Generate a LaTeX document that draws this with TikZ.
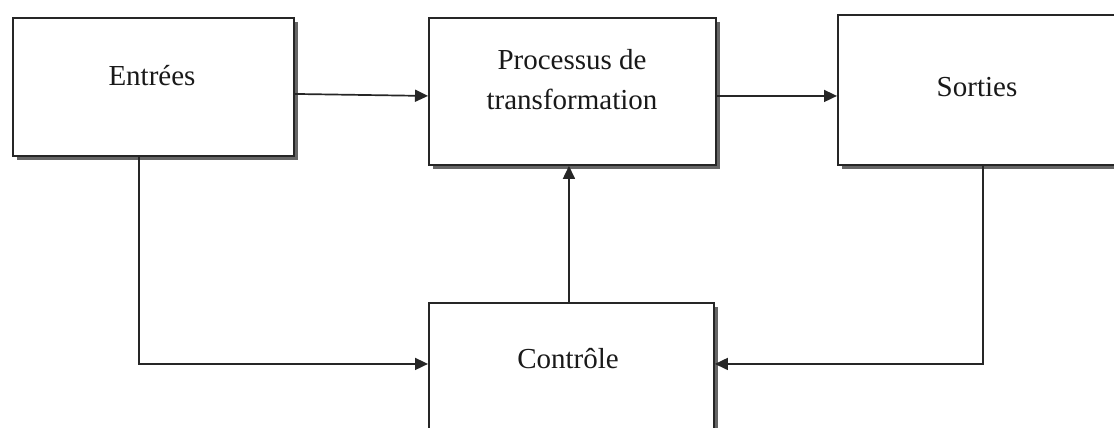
\documentclass[tikz,border=0pt]{standalone}
\usepackage{fontspec}
\setmainfont{Liberation Serif}
\usetikzlibrary{arrows.meta,shadows}
\begin{document}
\begin{tikzpicture}[
  box/.style={draw=black!85, line width=1.9pt, fill=white, rectangle, anchor=north west, inner sep=0pt,
    drop shadow={shadow xshift=4.5pt, shadow yshift=-4.5pt, fill=black!60, opacity=1}},
  lbl/.style={font=\fontsize{29}{40}\selectfont, align=center, inner sep=0pt, text=black!90},
  arr/.style={draw=black!85, line width=1.7pt, -{Triangle[length=13pt,width=12pt]}},
  ln/.style={draw=black!85, line width=1.7pt}
]
\useasboundingbox (0pt,0pt) rectangle (1114pt,-428pt);
\clip (0pt,0pt) rectangle (1114pt,-428pt);
\node[box, minimum width=281pt, minimum height=138pt] (ent) at (12pt,-17pt) {};
\node[box, minimum width=287pt, minimum height=147pt] (proc) at (428pt,-17pt) {};
\node[box, minimum width=293pt, minimum height=150pt] (sor) at (837pt,-14pt) {};
\node[box, minimum width=285pt, minimum height=148pt] (ctl) at (428pt,-302pt) {};
\node[lbl] (tent) at (152pt,-76pt) {Entrées};
\node[lbl] (tproc) at (572pt,-80pt) {Processus de\\transformation};
\node[lbl] (tsor) at (977pt,-87pt) {Sorties};
\node[lbl] (tctl) at (568pt,-359pt) {Contrôle};
\draw[arr] ([yshift=-7pt]ent.east) -- ([yshift=-4.5pt]proc.west);
\draw[arr] ([yshift=-4.5pt]proc.east) -- ([yshift=-6pt]sor.west);
\draw[arr] ([xshift=-2.5pt]ctl.north) -- ([xshift=-3.5pt]proc.south);
\draw[arr] ([xshift=-14.5pt]ent.south) |- ([yshift=13pt]ctl.west);
\draw[arr] ([xshift=-1.5pt]sor.south) |- ([yshift=13pt]ctl.east);
\end{tikzpicture}
\end{document}
